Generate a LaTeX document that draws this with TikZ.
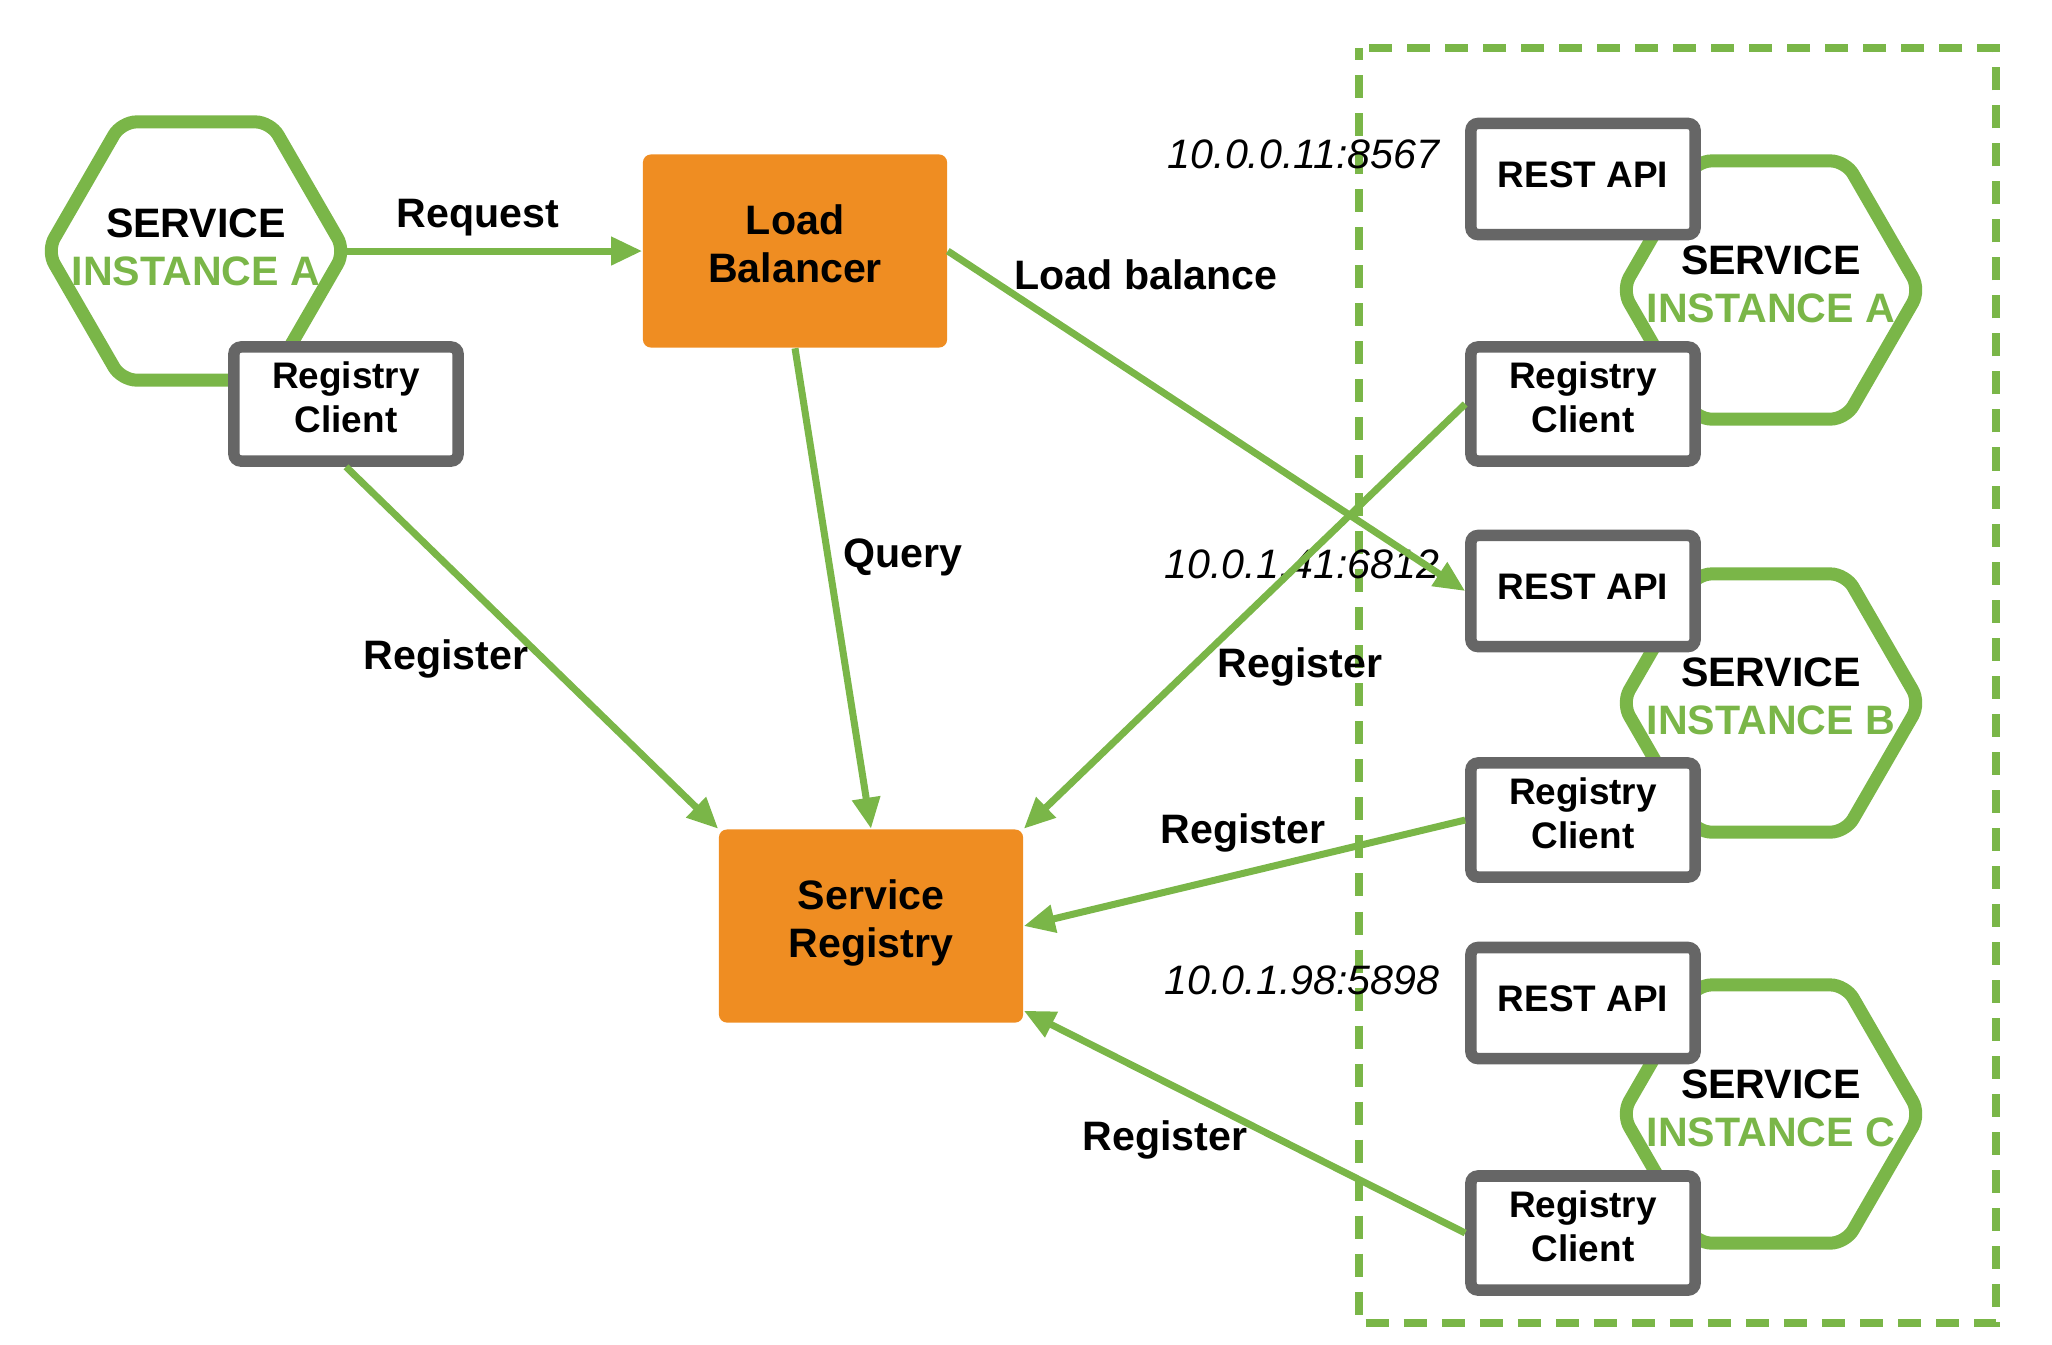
\documentclass[tikz,border=0pt]{standalone}
\usepackage{fontspec}
\setmainfont{Liberation Sans}
\usetikzlibrary{
  arrows.meta,
  positioning,
  shapes.geometric,
}
\definecolor{lgreen}{HTML}{7AB648}
\definecolor{lorange}{HTML}{EF8D22}
\definecolor{bgray}{HTML}{666666}
\tikzset{
  hex/.style = {
      regular polygon,
      regular polygon sides=6,
      draw=lgreen,
      line width=0.13cm,
      rounded corners=0.15cm,
      minimum size=2.98cm,
      inner sep=0pt, outer sep=0pt,
    },
  hextext/.style = {
      align=center,
      font=\bfseries\fontsize{11.7}{13.7}\selectfont,
      inner sep=0pt,
    },
  box/.style = {
      rectangle,
      draw=bgray,
      fill=white,
      line width=0.115cm,
      rounded corners=0.07cm,
      minimum width=2.24cm,
      minimum height=1.11cm,
      align=center,
      font=\bfseries\fontsize{10.5}{12.6}\selectfont,
      execute at end node=\strut,
    },
  regbox/.style = {
      box,
      minimum height=1.14cm,
    },
  block/.style = {
      rectangle,
      fill=lorange,
      rounded corners=0.08cm,
      minimum width=3.04cm,
      minimum height=1.93cm,
      align=center,
      font=\bfseries\fontsize{11.7}{13.7}\selectfont,
      execute at end node=\strut,
    },
  link/.style = {
      -{Triangle[length=0.31cm, width=0.27cm]},
      draw=lgreen,
      line width=0.07cm,
    },
  lbl/.style = {
      font=\bfseries\fontsize{11.7}{14}\selectfont,
      inner sep=0pt,
    },
  ip/.style = {
      font=\itshape\fontsize{11.7}{14}\selectfont,
      inner sep=0pt,
      anchor=east,
    },
}

\begin{document}
\begin{tikzpicture}[x=0.01cm, y=-0.01cm]
    \useasboundingbox (0,0) rectangle (2052,1344);

    % cluster of instances
    \draw[draw=lgreen, line width=0.08cm, dash pattern=on 0.23cm off 0.15cm, dash phase=0.11cm] (1359,48) rectangle (1996,1323);

    % hexagons
    \node[hex] (hexA)  at (196,251)  {};
    \node[hex] (hexRA) at (1771,290) {};
    \node[hex] (hexRB) at (1771,703) {};
    \node[hex] (hexRC) at (1771,1114) {};

    \node[hextext] (txtA)  at (196,247)  {SERVICE\\\textcolor{lgreen}{INSTANCE A}};
    \node[hextext] (txtRA) at (1771,284) {SERVICE\\\textcolor{lgreen}{INSTANCE A}};
    \node[hextext] (txtRB) at (1771,696) {SERVICE\\\textcolor{lgreen}{INSTANCE B}};
    \node[hextext] (txtRC) at (1771,1108) {SERVICE\\\textcolor{lgreen}{INSTANCE C}};

    % boxes
    \node[regbox] (regA)  at (346,404)  {Registry\\Client};
    \node[box]    (restA) at (1583,179) {REST API};
    \node[regbox] (regRA) at (1583,404) {Registry\\Client};
    \node[box]    (restB) at (1583,591) {REST API};
    \node[regbox] (regRB) at (1583,820) {Registry\\Client};
    \node[box]    (restC) at (1583,1003) {REST API};
    \node[regbox] (regRC) at (1583,1233) {Registry\\Client};

    \node[block] (lb) at (795,251) {Load\\Balancer};
    \node[block] (sr) at (871,926) {Service\\Registry};

    % addresses
    \node[ip] (ipA) at (1440,154) {10.0.0.11:8567};
    \node[ip] (ipB) at (1440,564) {10.0.1.41:6812};
    \node[ip] (ipC) at (1440,980) {10.0.1.98:5898};

    % connectors
    \draw[link] (hexA.east) -- (lb.west);
    \draw[link] (lb.east) -- (restB.west);
    \draw[link] (lb.south) -- (sr.north);
    \draw[link] (regA.south) -- (sr.north west);
    \draw[link] (regRA.west) -- (sr.north east);
    \draw[link] (regRB.west) -- (sr.east);
    \draw[link] (regRC.west) -- (sr.-29);

    \node[lbl] (lRequest) at (478,218)  {Request};
    \node[lbl] (lBalance) at (1146,275) {Load balance};
    \node[lbl] (lQuery)   at (903,557)  {Query};
    \node[lbl] (lRegA)    at (446,659)  {Register};
    \node[lbl] (lRegRA)   at (1300,667) {Register};
    \node[lbl] (lRegRB)   at (1243,833) {Register};
    \node[lbl] (lRegRC)   at (1165,1140) {Register};
  \end{tikzpicture}
\end{document}
